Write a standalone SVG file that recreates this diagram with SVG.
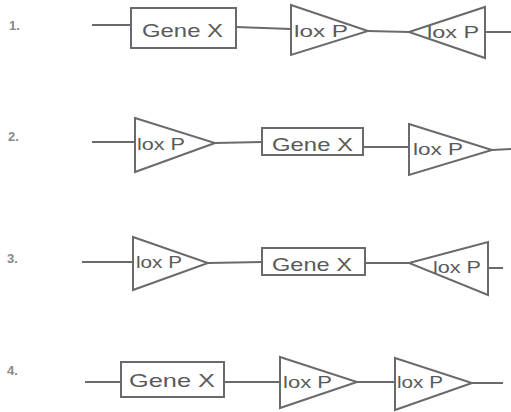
<svg xmlns="http://www.w3.org/2000/svg" width="511" height="412" viewBox="0 0 511 412">
<style>
.bg{fill:#ffffff}
.shape{fill:#ffffff;stroke:#6a6a6a;stroke-width:2;stroke-linejoin:miter}
.conn{stroke:#6a6a6a;stroke-width:2;fill:none}
.gene{font-family:"Liberation Sans",Arial,sans-serif;font-size:19px;fill:#5a5a5a}
.lox{font-family:"Liberation Sans",Arial,sans-serif;font-size:16px;fill:#5a5a5a}
.num{font-family:"Liberation Sans",Arial,sans-serif;font-size:13px;font-weight:bold;fill:#888888}
</style>
<rect class="bg" x="0" y="0" width="511" height="412"/>
<g id="connectors">
<line class="conn" x1="92" y1="25" x2="131" y2="25"/>
<line class="conn" x1="236" y1="27" x2="291" y2="29"/>
<line class="conn" x1="368" y1="31" x2="409" y2="32"/>
<line class="conn" x1="485" y1="32" x2="511" y2="32"/>
<line class="conn" x1="92" y1="142" x2="135" y2="142"/>
<line class="conn" x1="215" y1="143" x2="262" y2="142"/>
<line class="conn" x1="363" y1="147" x2="409" y2="147"/>
<line class="conn" x1="492" y1="150" x2="511" y2="149"/>
<line class="conn" x1="82" y1="262" x2="133" y2="262"/>
<line class="conn" x1="208" y1="263" x2="262" y2="262"/>
<line class="conn" x1="365" y1="263" x2="409" y2="263"/>
<line class="conn" x1="488" y1="268" x2="503" y2="268"/>
<line class="conn" x1="85" y1="382" x2="121" y2="382"/>
<line class="conn" x1="224" y1="382" x2="280" y2="382"/>
<line class="conn" x1="357" y1="382" x2="395" y2="382"/>
<line class="conn" x1="472" y1="383" x2="503" y2="383"/>
</g>
<g id="labels">
<text class="num" x="9" y="30">1.</text>
<text class="num" x="8" y="141">2.</text>
<text class="num" x="7" y="263">3.</text>
<text class="num" x="7" y="375">4.</text>
</g>
<g id="r1-gene">
<rect class="shape" x="131" y="8" width="105" height="40"/>
<text class="gene" x="142" y="37" textLength="81" lengthAdjust="spacingAndGlyphs">Gene X</text>
</g>
<g id="r1-lox1">
<polygon class="shape" points="291,5 368,31 291,55"/>
<text class="lox" x="294" y="37" textLength="54" lengthAdjust="spacingAndGlyphs">lox P</text>
</g>
<g id="r1-lox2">
<polygon class="shape" points="409,32 485,7 485,58"/>
<text class="lox" x="427" y="38" textLength="52" lengthAdjust="spacingAndGlyphs">lox P</text>
</g>
<g id="r2-lox1">
<polygon class="shape" points="135,118 215,143 135,172"/>
<text class="lox" x="137" y="150" textLength="48" lengthAdjust="spacingAndGlyphs">lox P</text>
</g>
<g id="r2-gene">
<rect class="shape" x="262" y="128" width="101" height="27"/>
<text class="gene" x="272" y="151" textLength="81" lengthAdjust="spacingAndGlyphs">Gene X</text>
</g>
<g id="r2-lox2">
<polygon class="shape" points="409,124 492,150 409,175"/>
<text class="lox" x="413" y="155" textLength="50" lengthAdjust="spacingAndGlyphs">lox P</text>
</g>
<g id="r3-lox1">
<polygon class="shape" points="133,237 208,263 133,290"/>
<text class="lox" x="136" y="268" textLength="46" lengthAdjust="spacingAndGlyphs">lox P</text>
</g>
<g id="r3-gene">
<rect class="shape" x="262" y="248" width="103" height="27"/>
<text class="gene" x="272" y="271" textLength="80" lengthAdjust="spacingAndGlyphs">Gene X</text>
</g>
<g id="r3-lox2">
<polygon class="shape" points="409,263 488,242 488,295"/>
<text class="lox" x="433" y="273" textLength="48" lengthAdjust="spacingAndGlyphs">lox P</text>
</g>
<g id="r4-gene">
<rect class="shape" x="121" y="362" width="103" height="35"/>
<text class="gene" x="129" y="387" textLength="86" lengthAdjust="spacingAndGlyphs">Gene X</text>
</g>
<g id="r4-lox1">
<polygon class="shape" points="280,357 357,382 280,408"/>
<text class="lox" x="283" y="388" textLength="49" lengthAdjust="spacingAndGlyphs">lox P</text>
</g>
<g id="r4-lox2">
<polygon class="shape" points="395,358 472,383 395,410"/>
<text class="lox" x="397" y="388" textLength="46" lengthAdjust="spacingAndGlyphs">lox P</text>
</g>
</svg>
